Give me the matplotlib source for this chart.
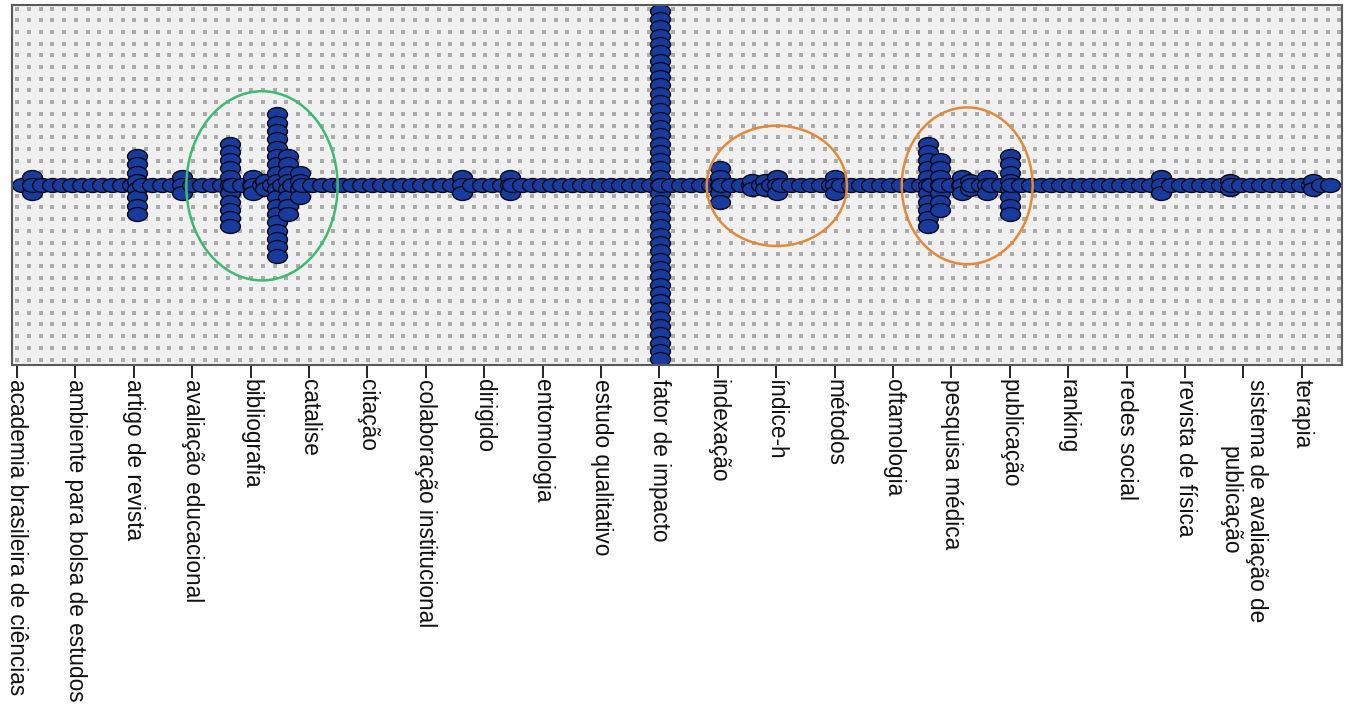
import numpy as np
import matplotlib
matplotlib.use("Agg")
import matplotlib.pyplot as plt
from matplotlib.path import Path
from matplotlib.patches import Ellipse

categories = ["academia brasileira de ciências", "ambiente para bolsa de estudos",
              "artigo de revista", "avaliação educacional", "bibliografia", "catalise",
              "citação", "colaboração institucional", "dirigido", "entomologia",
              "estudo qualitativo", "fator de impacto", "indexação", "índice-h", "métodos",
              "oftamologia", "pesquisa médica", "publicação", "ranking", "redes social",
              "revista de física", "sistema de avaliação de\npublicação", "terapia"]

# single-dot chain along the axis (evenly spaced bins)
chain_start, chain_stop, chain_step = 0.09, 22.58, 0.171

# stacked columns: x position (category units) and number of dots
stack_x = [0.26, 2.05, 2.83, 3.65, 4.04, 4.25, 4.45, 4.64, 4.85, 7.62, 8.44,
           11.01, 12.04, 12.59, 12.81, 13.01, 14.01, 15.60, 15.81, 16.18, 16.32,
           16.61, 17.00, 19.59, 20.77, 22.19]
stack_n = [3, 8, 3, 11, 3, 2, 18, 8, 4, 3, 3,
           43, 5, 2, 2, 3, 3, 11, 7, 3, 2,
           3, 8, 3, 2, 2]

xs = list(np.arange(chain_start, chain_stop, chain_step))
ys = [0.0] * len(xs)
for x, n in zip(stack_x, stack_n):
    for k in range(n):
        xs.append(x); ys.append(k - (n - 1) / 2)
xs, ys = np.array(xs), np.array(ys)
order = np.lexsort((-ys, xs))

circ = Path.unit_circle()
dot = Path(circ.vertices * [1.0, 0.7], circ.codes)

W, H = 1348, 707
fig = plt.figure(figsize=(W / 100, H / 100), dpi=100)
ax = fig.add_axes([12 / W, 1 - 365 / H, 1330 / W, 360 / H])
ax.set_facecolor("#f0f0f0")

# dotted background pattern
gx, gy = np.meshgrid(np.arange(0.004, 1, 11.7 / 1330), np.arange(0.015, 1, 11.7 / 360))
ax.scatter(gx.ravel(), gy.ravel(), s=5, marker="s", c="#ababab", linewidths=0,
           transform=ax.transAxes, zorder=0)

ax.scatter(xs[order], ys[order], s=205, marker=dot, c="#173c9e", edgecolors="#080818",
           linewidths=1.0, zorder=2)

for (cx, cy, w, h, col) in [(4.195, -0.1, 2.59, 22.8, "#3dba6f"),
                            (13.01, -0.1, 2.40, 14.5, "#e3893a"),
                            (16.27, -0.1, 2.24, 18.9, "#e3893a")]:
    ax.add_patch(Ellipse((cx, cy), w, h, fill=False, ec=col, lw=1.8, zorder=3))

ax.set_xlim(-0.0856, 22.688)
ax.set_ylim(-21.69, 21.69)
ax.set_xticks(range(len(categories)))
ax.set_xticklabels(categories, rotation=270, fontsize=16.3, family="Liberation Sans",
                   va="top", ha="center", color="#111111")
ax.tick_params(axis="x", length=9, width=1.2, pad=1, direction="out")
ax.set_yticks([])
for s in ax.spines.values():
    s.set_color("#5a5a5a"); s.set_linewidth(1.5)

fig.savefig("out.png", dpi=100)
